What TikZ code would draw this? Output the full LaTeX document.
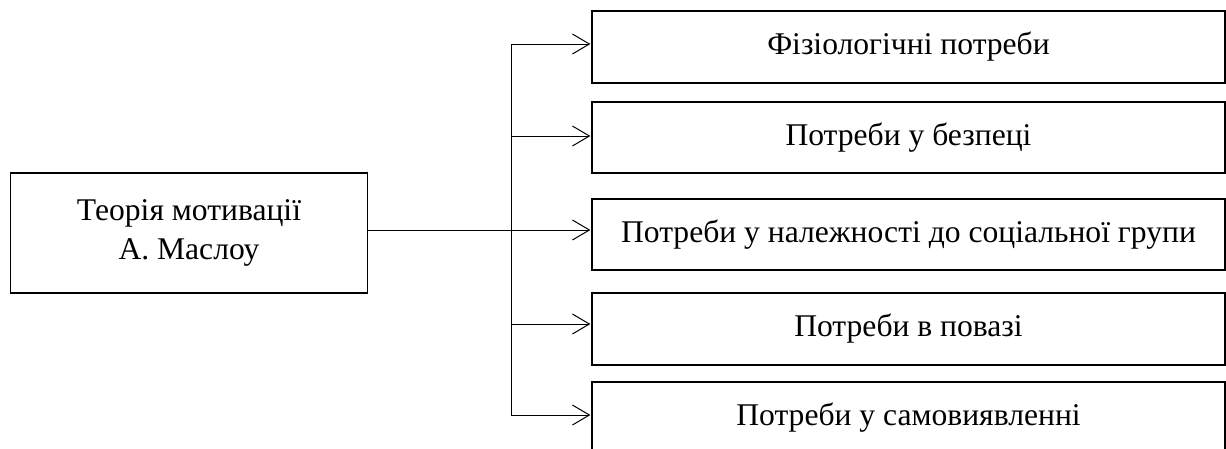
\documentclass[tikz,border=0pt]{standalone}
\usepackage{fontspec}
\setmainfont{Liberation Serif}
\usetikzlibrary{arrows.meta}
\begin{document}
\begin{tikzpicture}[x=1pt,y=1pt,
  box/.style={draw=black, line width=1.6pt, inner sep=0pt, align=center,
    font=\fontsize{31.6}{39}\selectfont},
  rbox/.style={box, minimum width=633pt, minimum height=72pt},
  conn/.style={line width=1pt},
  arr/.style={conn, -{Straight Barb[length=17pt,width=20pt,line width=1pt]}, shorten >=0.8pt}]
\useasboundingbox (0,0) rectangle (1226,-448);
\node[box, minimum width=357pt, minimum height=120pt] (m) at (189,-233) {Теорія мотивації\\А. Маслоу};
\node[rbox] (b1) at (908.5,-47) {Фізіологічні потреби};
\node[rbox, minimum height=71pt] (b2) at (908.5,-137.5) {Потреби у безпеці};
\node[rbox, minimum height=71pt] (b3) at (908.5,-234.5) {Потреби у належності до соціальної групи};
\node[rbox] (b4) at (908.5,-329) {Потреби в повазі};
\node[rbox] (b5) at (908.5,-418) {Потреби у самовиявленні};
\coordinate (t) at (511,-44);
\coordinate (j2) at (511,-136);
\coordinate (j3) at (511,-230);
\coordinate (j4) at (511,-324);
\coordinate (bt) at (511,-415);
\draw[conn] (t) -- (bt);
\draw[conn] (m.east |- j3) -- (j3);
\draw[arr] (t) -- (t -| b1.west);
\draw[arr] (j2) -- (j2 -| b2.west);
\draw[arr] (j3) -- (j3 -| b3.west);
\draw[arr] (j4) -- (j4 -| b4.west);
\draw[arr] (bt) -- (bt -| b5.west);
\end{tikzpicture}
\end{document}
